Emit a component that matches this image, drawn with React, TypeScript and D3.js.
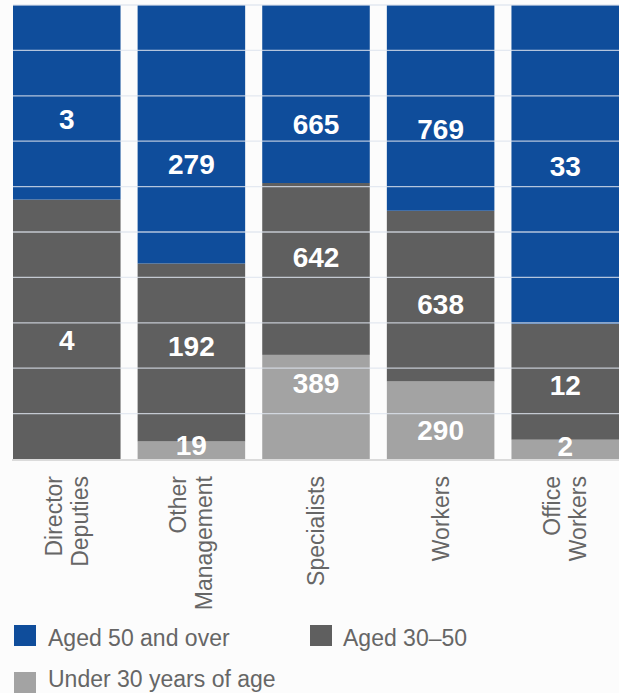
import React from "react";
import * as d3 from "d3";

const categories = ["Director Deputies", "Other Management", "Specialists", "Workers", "Office Workers"];
const categoryLines = [["Director", "Deputies"], ["Other", "Management"], ["Specialists"], ["Workers"], ["Office", "Workers"]];
const under30 = [0, 19, 389, 290, 2];
const aged3050 = [4, 192, 642, 638, 12];
const aged50 = [3, 279, 665, 769, 33];
// where each value label sits, as a share of the 100% column
const labelUnder30 = [null, 0.03, 0.167, 0.065, 0.029];
const labelAged3050 = [0.262, 0.249, 0.445, 0.341, 0.164];
const labelAged50 = [0.749, 0.649, 0.738, 0.727, 0.646];
const legendLabels = ["Aged 50 and over", "Aged 30\u201350", "Under 30 years of age"];
const gridTicks = [0.1, 0.2, 0.3, 0.4, 0.5, 0.6, 0.7, 0.8, 0.9, 1.0];

const W = 619;
const H = 693;
const keys = ["under30", "aged3050", "aged50"];
const colors: Record<string, string> = { under30: "#a3a3a3", aged3050: "#5f5f5f", aged50: "#0f4d9b" };

export default function App() {
  const rows = categories.map((c, i) => ({ cat: c, under30: under30[i], aged3050: aged3050[i], aged50: aged50[i] }));
  const series = d3.stack<any>().keys(keys).offset(d3.stackOffsetExpand)(rows);
  const x = d3.scaleBand<string>().domain(categories).range([13, 619]).paddingInner(0.137).paddingOuter(0);
  const y = d3.scaleLinear().domain([0, 1]).range([459, 5]);
  const labelPos: Record<string, (number | null)[]> = { under30: labelUnder30, aged3050: labelAged3050, aged50: labelAged50 };
  const values: Record<string, number[]> = { under30, aged3050, aged50 };
  const fs = 28;
  const font = "'Liberation Sans', Arial, sans-serif";

  return (
    <svg width={W} height={H} style={{ position: "absolute", left: 0, top: 0, background: "#fcfcfc" }} fontFamily={font}>
      <rect x={0} y={0} width={W} height={H} fill="#fcfcfc" />
      {series.map((s) => (
        <g key={s.key}>
          {s.map((d, i) => (
            <rect
              key={i}
              x={x(categories[i])}
              width={x.bandwidth()}
              y={y(d[1])}
              height={Math.max(0, y(d[0]) - y(d[1]))}
              fill={colors[s.key]}
            />
          ))}
        </g>
      ))}
      {gridTicks.map((t) => (
        <line key={t} x1={13} x2={619} y1={y(t)} y2={y(t)} stroke="#dde3ee" strokeOpacity={0.8} strokeWidth={1.3} />
      ))}
      <line x1={12} x2={619} y1={y(0) + 1} y2={y(0) + 1} stroke="#d0d0d0" strokeWidth={1.5} />
      {keys.map((k) =>
        categories.map((c, i) => {
          const p = labelPos[k][i];
          if (p == null || !values[k][i]) return null;
          return (
            <text
              key={k + i}
              x={(x(c) as number) + x.bandwidth() / 2}
              y={y(p) + fs * 0.358}
              textAnchor="middle"
              fill="#ffffff"
              fontWeight="bold"
              fontSize={fs}
            >
              {values[k][i]}
            </text>
          );
        })
      )}
      {categoryLines.map((lines, i) => {
        const cx = (x(categories[i]) as number) + x.bandwidth() / 2;
        const lh = 26;
        const n = lines.length;
        return (
          <g key={i}>
            {lines.map((ln, j) => {
              const bx = cx + (j - (n - 1) / 2) * lh + 8;
              return (
                <text
                  key={j}
                  transform={`translate(${bx},476) rotate(-90)`}
                  textAnchor="end"
                  fill="#666666"
                  fontSize={23}
                >
                  {ln}
                </text>
              );
            })}
          </g>
        );
      })}
      <g>
        <rect x={14} y={625} width={22} height={21} fill={colors.aged50} />
        <text x={48} y={646} fontSize={23} fill="#666666">{legendLabels[0]}</text>
        <rect x={310} y={625} width={22} height={21} fill={colors.aged3050} />
        <text x={343} y={646} fontSize={23} fill="#666666">{legendLabels[1]}</text>
        <rect x={14} y={672} width={22} height={21} fill={colors.under30} />
        <text x={48} y={687} fontSize={23} fill="#666666">{legendLabels[2]}</text>
      </g>
    </svg>
  );
}
